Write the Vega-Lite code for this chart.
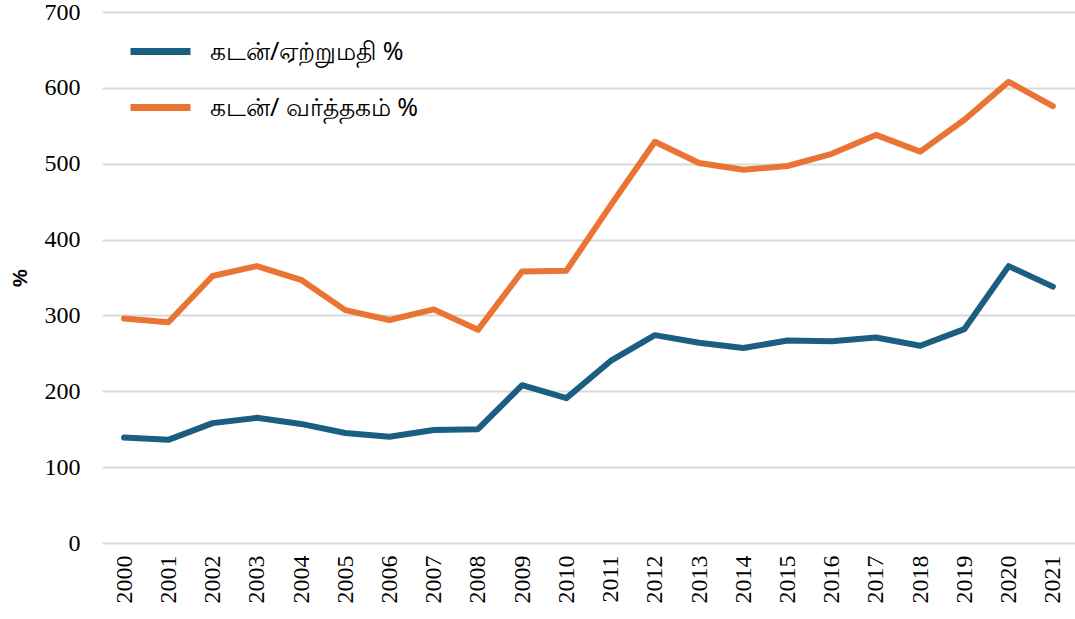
{
  "$schema": "https://vega.github.io/schema/vega-lite/v6.json",
  "autosize": "none",
  "width": 973,
  "height": 531,
  "padding": {"left": 102, "top": 12, "right": 0, "bottom": 76},
  "config": {"view": {"stroke": null}},
  "datasets": {
    "rows": [
      {"year": "2000", "s": "கடன்/ஏற்றுமதி  %", "v": 139},
      {"year": "2001", "s": "கடன்/ஏற்றுமதி  %", "v": 136},
      {"year": "2002", "s": "கடன்/ஏற்றுமதி  %", "v": 158},
      {"year": "2003", "s": "கடன்/ஏற்றுமதி  %", "v": 165},
      {"year": "2004", "s": "கடன்/ஏற்றுமதி  %", "v": 157},
      {"year": "2005", "s": "கடன்/ஏற்றுமதி  %", "v": 145},
      {"year": "2006", "s": "கடன்/ஏற்றுமதி  %", "v": 140},
      {"year": "2007", "s": "கடன்/ஏற்றுமதி  %", "v": 149},
      {"year": "2008", "s": "கடன்/ஏற்றுமதி  %", "v": 150},
      {"year": "2009", "s": "கடன்/ஏற்றுமதி  %", "v": 208},
      {"year": "2010", "s": "கடன்/ஏற்றுமதி  %", "v": 191},
      {"year": "2011", "s": "கடன்/ஏற்றுமதி  %", "v": 240},
      {"year": "2012", "s": "கடன்/ஏற்றுமதி  %", "v": 274},
      {"year": "2013", "s": "கடன்/ஏற்றுமதி  %", "v": 264},
      {"year": "2014", "s": "கடன்/ஏற்றுமதி  %", "v": 257},
      {"year": "2015", "s": "கடன்/ஏற்றுமதி  %", "v": 267},
      {"year": "2016", "s": "கடன்/ஏற்றுமதி  %", "v": 266},
      {"year": "2017", "s": "கடன்/ஏற்றுமதி  %", "v": 271},
      {"year": "2018", "s": "கடன்/ஏற்றுமதி  %", "v": 260},
      {"year": "2019", "s": "கடன்/ஏற்றுமதி  %", "v": 282},
      {"year": "2020", "s": "கடன்/ஏற்றுமதி  %", "v": 365},
      {"year": "2021", "s": "கடன்/ஏற்றுமதி  %", "v": 338},
      {"year": "2000", "s": "கடன்/ வர்த்தகம்  %", "v": 296},
      {"year": "2001", "s": "கடன்/ வர்த்தகம்  %", "v": 291},
      {"year": "2002", "s": "கடன்/ வர்த்தகம்  %", "v": 352},
      {"year": "2003", "s": "கடன்/ வர்த்தகம்  %", "v": 365},
      {"year": "2004", "s": "கடன்/ வர்த்தகம்  %", "v": 347},
      {"year": "2005", "s": "கடன்/ வர்த்தகம்  %", "v": 307},
      {"year": "2006", "s": "கடன்/ வர்த்தகம்  %", "v": 294},
      {"year": "2007", "s": "கடன்/ வர்த்தகம்  %", "v": 308},
      {"year": "2008", "s": "கடன்/ வர்த்தகம்  %", "v": 281},
      {"year": "2009", "s": "கடன்/ வர்த்தகம்  %", "v": 358},
      {"year": "2010", "s": "கடன்/ வர்த்தகம்  %", "v": 359},
      {"year": "2011", "s": "கடன்/ வர்த்தகம்  %", "v": 445},
      {"year": "2012", "s": "கடன்/ வர்த்தகம்  %", "v": 529},
      {"year": "2013", "s": "கடன்/ வர்த்தகம்  %", "v": 501},
      {"year": "2014", "s": "கடன்/ வர்த்தகம்  %", "v": 492},
      {"year": "2015", "s": "கடன்/ வர்த்தகம்  %", "v": 497},
      {"year": "2016", "s": "கடன்/ வர்த்தகம்  %", "v": 513},
      {"year": "2017", "s": "கடன்/ வர்த்தகம்  %", "v": 538},
      {"year": "2018", "s": "கடன்/ வர்த்தகம்  %", "v": 516},
      {"year": "2019", "s": "கடன்/ வர்த்தகம்  %", "v": 558},
      {"year": "2020", "s": "கடன்/ வர்த்தகம்  %", "v": 608},
      {"year": "2021", "s": "கடன்/ வர்த்தகம்  %", "v": 576}
    ]
  },
  "data": {"name": "rows"},
  "mark": {"type": "line", "strokeWidth": 6, "strokeCap": "round", "strokeJoin": "round"},
  "encoding": {
    "x": {
      "field": "year",
      "type": "ordinal",
      "scale": {"type": "point", "padding": 0.5},
      "axis": {
        "title": null,
        "labelAngle": -90,
        "labelFont": "Liberation Serif",
        "labelFontSize": 24,
        "labelColor": "#000000",
        "labelPadding": 12,
        "ticks": false,
        "domain": false
      }
    },
    "y": {
      "field": "v",
      "type": "quantitative",
      "scale": {"domain": [0, 700], "nice": false},
      "axis": {
        "title": "%",
        "titleFont": "Liberation Sans",
        "titleFontSize": 20,
        "titleFontWeight": "bold",
        "titleColor": "#000000",
        "titlePadding": 14,
        "values": [0, 100, 200, 300, 400, 500, 600, 700],
        "labelFont": "Liberation Serif",
        "labelFontSize": 24,
        "labelColor": "#000000",
        "labelPadding": 22,
        "ticks": false,
        "domain": false,
        "grid": true,
        "gridColor": "#d9d9d9",
        "gridWidth": 2
      }
    },
    "color": {
      "field": "s",
      "type": "nominal",
      "sort": ["கடன்/ஏற்றுமதி  %", "கடன்/ வர்த்தகம்  %"],
      "scale": {"domain": ["கடன்/ஏற்றுமதி  %", "கடன்/ வர்த்தகம்  %"], "range": ["#1a5f82", "#ea7434"]},
      "legend": {
        "title": null,
        "orient": "none",
        "legendX": 25,
        "legendY": 6,
        "padding": 0,
        "symbolType": "stroke",
        "symbolStrokeWidth": 7,
        "symbolSize": 3600,
        "labelFont": "Noto Sans",
        "labelFontSize": 25,
        "labelColor": "#000000",
        "labelOffset": 16,
        "labelLimit": 600,
        "rowPadding": 8
      }
    }
  }
}
